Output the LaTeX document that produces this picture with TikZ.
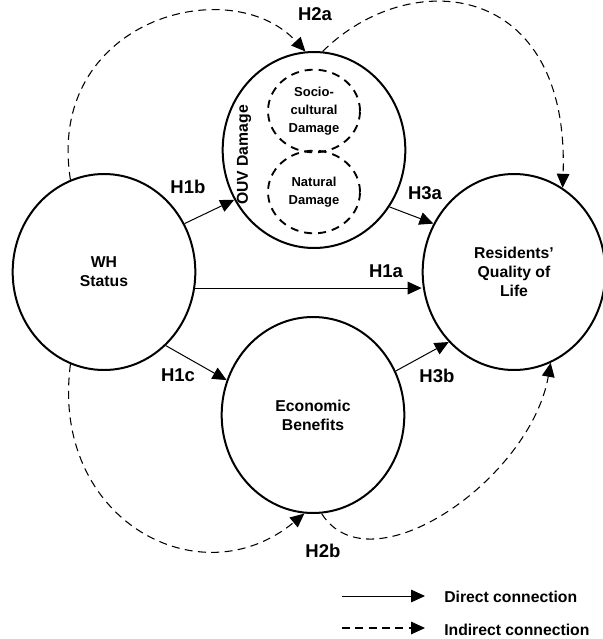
\documentclass[tikz,border=0pt]{standalone}
\usepackage{fontspec}
\setmainfont{Liberation Sans}
\usetikzlibrary{arrows.meta,shapes.geometric}

\begin{document}
\begin{tikzpicture}[x=0.75pt,y=-0.75pt,
bigcircle/.style={draw,ellipse,line width=1.5pt,minimum width=137pt,minimum height=147pt,inner sep=0pt,align=center,font=\bfseries\fontsize{11.8}{14.2}\selectfont},
subcircle/.style={draw,ellipse,line width=1.4pt,dash pattern=on 6pt off 4.5pt,minimum width=69pt,minimum height=62pt,inner sep=0pt,align=center,font=\bfseries\fontsize{9.75}{13.5}\selectfont},
hlabel/.style={font=\bfseries\fontsize{13.9}{16}\selectfont,inner sep=1pt},
legendtext/.style={font=\bfseries\fontsize{11.8}{14}\selectfont,anchor=west,inner sep=0pt},
arrow/.style={-{Triangle[length=10.5pt,width=9.5pt]},line width=0.75pt},
dasharrow/.style={-{Triangle[length=10.5pt,width=9.5pt]},line width=0.8pt,dash pattern=on 6pt off 4pt}]

\useasboundingbox (0,0) rectangle (603,639);

\node[bigcircle] (wh) at (104,272) {WH\\Status};
\node[bigcircle] (ouv) at (314,150) {};
\node[bigcircle] (qol) at (514,272) {Residents’\\Quality of\\Life};
\node[bigcircle] (eco) at (313,415) {Economic\\Benefits};

\node[subcircle] (soc) at (314,111) {Socio-\\cultural\\Damage};
\node[subcircle] (nat) at (314,192) {Natural\\Damage};
\node[rotate=90,font=\bfseries\fontsize{11.8}{14}\selectfont] (ouvtext) at (244,155) {OUV Damage};

% direct paths
\draw[arrow] (wh.31) -- (ouv.212);
\draw[arrow] (wh.-10) -- (wh.-10 -| qol.west);
\draw[arrow] (wh.-50) -- (eco.158);
\draw[arrow] (ouv.-37) -- (qol.149);
\draw[arrow] (eco.28) -- (qol.227);

% indirect paths
\draw[dasharrow] (wh.110) .. controls (45,20) and (230,-30) .. (ouv.95);
\draw[dasharrow] (ouv.85) .. controls (410,-35) and (570,-20) .. (qol.60);
\draw[dasharrow] (wh.-110) .. controls (50,520) and (200,600) .. (eco.-95);
\draw[dasharrow] (eco.-85) .. controls (370,590) and (530,480) .. (qol.-68);

\node[hlabel] (h1b) at (188,187) {H1b};
\node[hlabel] (h1a) at (386,271) {H1a};
\node[hlabel] (h1c) at (178,375) {H1c};
\node[hlabel] (h3a) at (425,193) {H3a};
\node[hlabel] (h3b) at (437,376) {H3b};
\node[hlabel] (h2a) at (315,14) {H2a};
\node[hlabel] (h2b) at (323,551) {H2b};

% legend
\coordinate (ds) at (342,596);
\coordinate (de) at (425,596);
\coordinate (is) at (342,628);
\coordinate (ie) at (425,628);
\draw[arrow] (ds) -- (de);
\draw[dasharrow] (is) -- (ie);
\node[legendtext] (dtext) at (444,597) {Direct connection};
\node[legendtext] (itext) at (444,630) {Indirect connection};

\end{tikzpicture}
\end{document}
